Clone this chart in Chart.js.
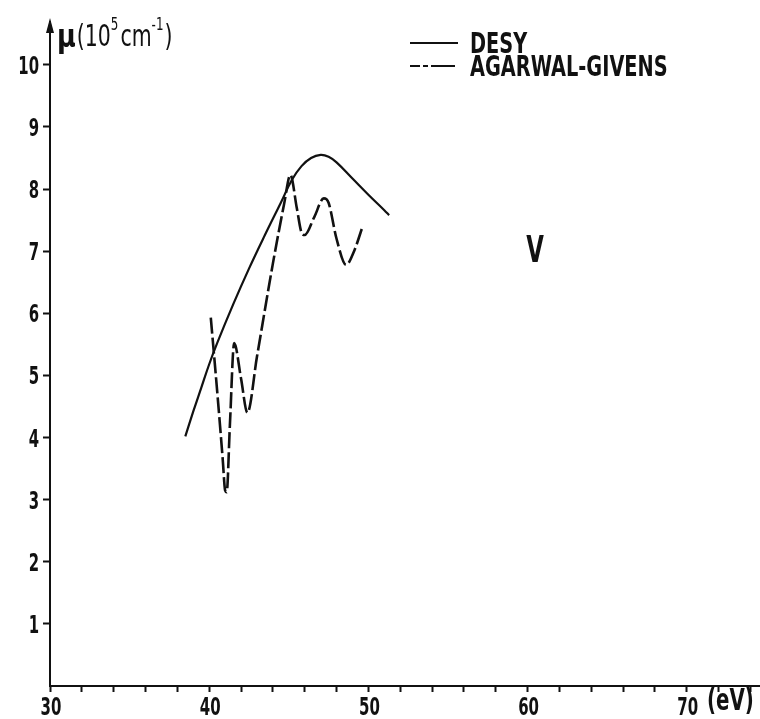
<!DOCTYPE html>
<html>
<head>
<meta charset="utf-8">
<title>Absorption coefficient of V</title>
<script src="https://cdn.jsdelivr.net/npm/chart.js@4.4.1/dist/chart.umd.min.js"></script>
<style>
  html, body { margin: 0; padding: 0; background: #fff; }
  #wrap { width: 760px; height: 719px; position: relative; }
</style>
</head>
<body>
<div id="wrap"><canvas id="muChart"></canvas></div>
<script>
// photon energy (eV) and absorption coefficient mu (10^5 cm^-1)
const desyEnergy = [38.5, 39.0, 39.5, 40.0, 40.5, 41.5, 42.5, 43.5, 44.5, 45.2, 45.8, 46.4, 47.0, 47.5, 48.0, 49.0, 50.0, 51.0, 51.3];
const desyMu     = [4.02, 4.42, 4.80, 5.18, 5.52, 6.14, 6.72, 7.26, 7.78, 8.15, 8.37, 8.50, 8.55, 8.52, 8.43, 8.17, 7.91, 7.66, 7.58];

const agEnergy = [40.1, 40.5, 40.85, 41.0, 41.1, 41.3, 41.57, 42.0, 42.4, 43.0, 44.0, 44.7, 45.1, 45.5, 45.8, 46.0, 46.6, 47.2, 47.5, 48.0, 48.6, 49.1, 49.6];
const agMu     = [5.93, 4.75, 3.65, 3.15, 3.12, 4.20, 5.52, 4.95, 4.40, 5.30, 6.80, 7.75, 8.23, 7.70, 7.30, 7.26, 7.55, 7.85, 7.78, 7.20, 6.78, 7.00, 7.37];

const xTickLabels = [30, 40, 50, 60, 70];
const yTickValues = [1, 2, 3, 4, 5, 6, 7, 8, 9, 10];
const seriesNames = ['DESY', 'AGARWAL-GIVENS'];
const elementLabel = 'V';

const FONT = "'DejaVu Sans', sans-serif";
const INK = '#111';

function toPoints(xs, ys) {
  return xs.map((x, i) => ({ x: x, y: ys[i] }));
}

// narrow lettering: squeeze the glyphs horizontally around the anchor point
function narrowText(ctx, text, x, y, font, sx, align) {
  ctx.save();
  ctx.font = font;
  ctx.translate(x, y);
  ctx.scale(sx, 1);
  ctx.textAlign = align || 'left';
  ctx.fillText(text, 0, 0);
  const w = ctx.measureText(text).width * sx;
  ctx.restore();
  return w;
}

// tick labels, axis arrow, y-axis title, legend and element label
const annotations = {
  id: 'annotations',
  afterDraw(chart) {
    const { ctx, chartArea, scales } = chart;
    const x0 = scales.x.left;
    ctx.save();
    ctx.fillStyle = INK;
    ctx.strokeStyle = INK;
    ctx.textBaseline = 'alphabetic';

    // tick labels
    yTickValues.forEach(v => {
      const py = scales.y.getPixelForValue(v);
      narrowText(ctx, String(v), x0 - 11, py + 9, "bold 24px " + FONT, 0.62, 'right');
    });
    xTickLabels.forEach(v => {
      const px = scales.x.getPixelForValue(v);
      narrowText(ctx, String(v), px + 1, scales.x.top + 29, "bold 25px " + FONT, 0.6, 'center');
    });
    narrowText(ctx, '(eV)', 707, scales.x.top + 24, "bold 30px " + FONT, 0.66, 'left');

    // arrow head on the y axis
    ctx.beginPath();
    ctx.moveTo(x0, chartArea.top - 4);
    ctx.lineTo(x0 - 4, chartArea.top + 11);
    ctx.lineTo(x0 + 4, chartArea.top + 11);
    ctx.closePath();
    ctx.fill();

    // y-axis title: mu(10^5 cm^-1)
    let tx = 57, ty = 47;
    tx += narrowText(ctx, '\u03bc', tx, ty, "bold 32px " + FONT, 0.8) + 1;
    tx += narrowText(ctx, '(10', tx, ty - 1, "31px " + FONT, 0.66);
    tx += narrowText(ctx, '5', tx, ty - 17, "17px " + FONT, 0.7) + 2;
    tx += narrowText(ctx, 'cm', tx, ty - 1, "31px " + FONT, 0.66);
    tx += narrowText(ctx, '-1', tx, ty - 17, "17px " + FONT, 0.7) + 1;
    narrowText(ctx, ')', tx, ty - 1, "31px " + FONT, 0.66);

    // legend
    ctx.lineWidth = 2;
    ctx.beginPath();
    ctx.moveTo(410, 43); ctx.lineTo(458, 43);
    ctx.stroke();
    narrowText(ctx, seriesNames[0], 470, 53, "bold 28px " + FONT, 0.69);
    ctx.setLineDash([10, 3, 5, 3, 14, 0]);
    ctx.beginPath();
    ctx.moveTo(410, 66); ctx.lineTo(458, 66);
    ctx.stroke();
    ctx.setLineDash([]);
    narrowText(ctx, seriesNames[1], 470, 76, "bold 28px " + FONT, 0.69);

    // element label
    narrowText(ctx, elementLabel, 535, 262, "bold 38px " + FONT, 0.6, 'center');
    ctx.restore();
  }
};

const chartData = {
  datasets: [
    {
      label: seriesNames[0],
      data: toPoints(desyEnergy, desyMu),
      borderColor: INK, borderWidth: 2.2,
      pointRadius: 0, tension: 0.4,
      fill: false
    },
    {
      label: seriesNames[1],
      data: toPoints(agEnergy, agMu),
      borderColor: INK, borderWidth: 2.6, borderDash: [16, 4],
      pointRadius: 0, tension: 0.4, cubicInterpolationMode: 'monotone',
      fill: false
    }
  ]
};

const chartOptions = {
  responsive: true, maintainAspectRatio: false, animation: false,
  layout: { padding: { top: 22, right: 0, left: 0, bottom: 0 } },
  plugins: { legend: { display: false }, tooltip: { enabled: false }, title: { display: false } },
  scales: {
    x: {
      type: 'linear', min: 30, max: 74.6,
      afterBuildTicks: (s) => {
        const t = [];
        for (let v = 30; v <= 74; v += 2) t.push({ value: v });
        s.ticks = t;
      },
      afterFit: (s) => { s.height = 33; },
      border: { color: INK, width: 2 },
      grid: { drawOnChartArea: false, drawTicks: true, tickLength: 6, tickWidth: 2, color: INK },
      ticks: { display: false }
    },
    y: {
      type: 'linear', min: 0, max: 10.69,
      afterBuildTicks: (s) => { s.ticks = yTickValues.map(v => ({ value: v })); },
      afterFit: (s) => { s.width = 50; },
      border: { color: INK, width: 2 },
      grid: { drawOnChartArea: false, drawTicks: true, tickLength: 7, tickWidth: 2, color: INK },
      ticks: { display: false }
    }
  }
};

try { new Chart(document.getElementById('muChart'), { type: 'line', data: chartData, options: chartOptions, plugins: [annotations] }); }
catch (error) { console.error('Error initializing chart #muChart:', error); }
</script>
</body>
</html>
